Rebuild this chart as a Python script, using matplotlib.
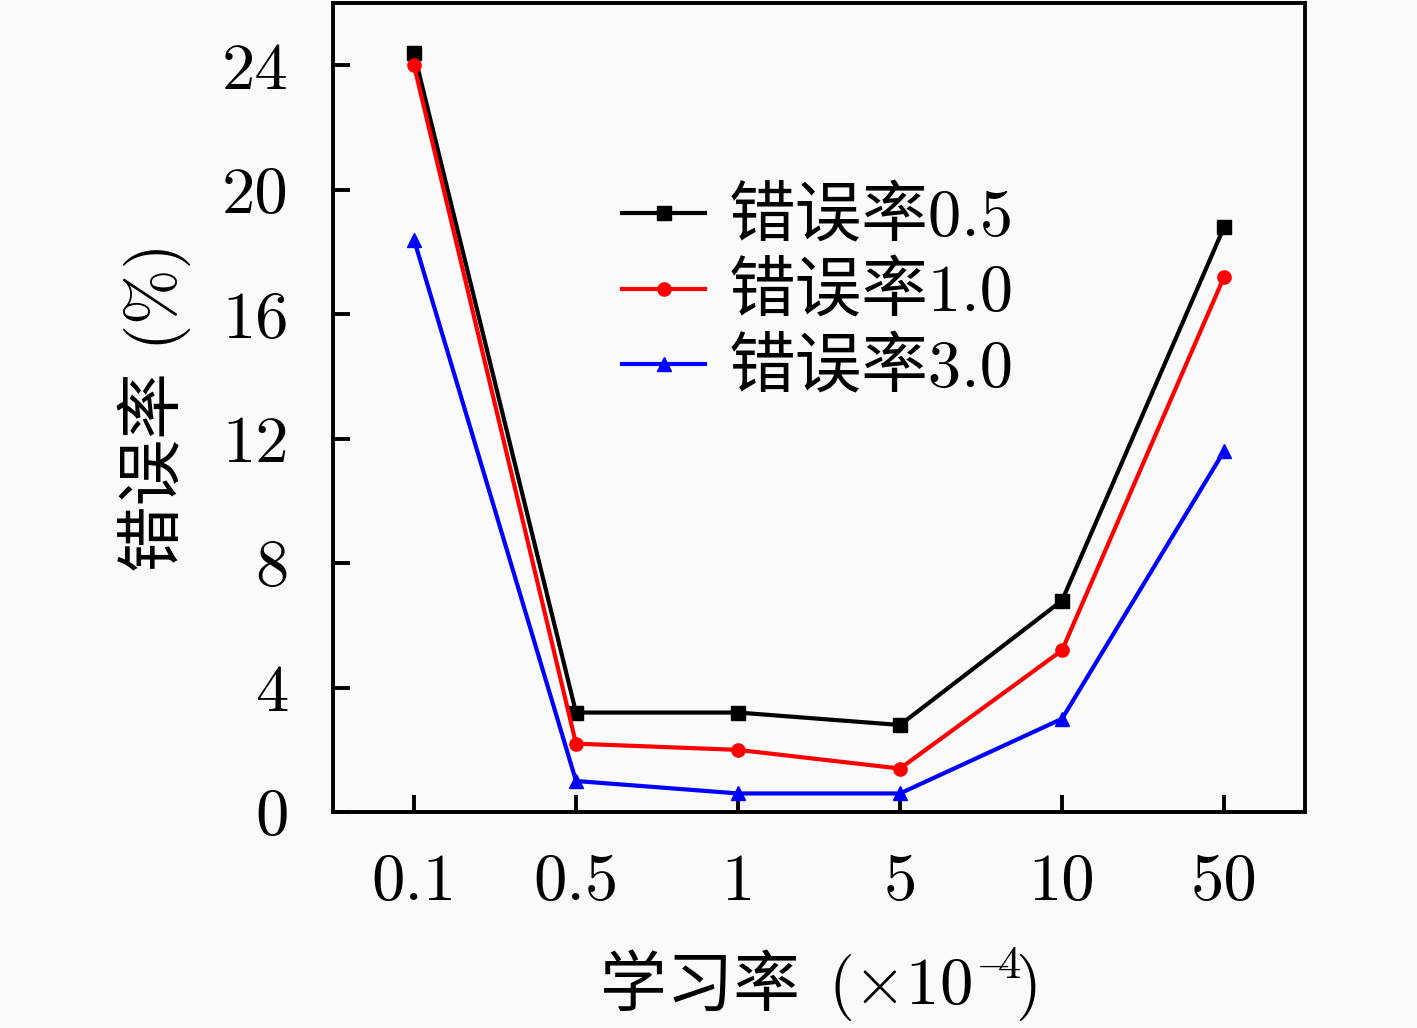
import matplotlib
matplotlib.use("Agg")
import matplotlib.pyplot as plt

categories = ["0.1", "0.5", "1", "5", "10", "50"]
err_05 = [24.4, 3.2, 3.2, 2.8, 6.8, 18.8]
err_10 = [24.0, 2.2, 2.0, 1.4, 5.2, 17.2]
err_30 = [18.4, 1.0, 0.6, 0.6, 3.0, 11.6]
labels = ["错误率0.5", "错误率1.0", "错误率3.0"]
yticks = [0, 4, 8, 12, 16, 20, 24]

fam = ['cmr10', 'Noto Sans CJK SC', 'DejaVu Sans']
plt.rcParams['font.family'] = fam
plt.rcParams['mathtext.fontset'] = 'cm'

bg = '#fafafa'
FS = 48
fig = plt.figure(figsize=(14.17, 10.28), dpi=100, facecolor=bg)
ax = fig.add_axes([0.235, 0.210, 0.686, 0.787], facecolor=bg)

x = list(range(len(categories)))
ax.plot(x, err_05, color='black', lw=3.0, marker='s', ms=9.5, label=labels[0])
ax.plot(x, err_10, color='red', lw=3.0, marker='o', ms=9.5, label=labels[1])
ax.plot(x, err_30, color='blue', lw=3.0, marker='^', ms=10.5, label=labels[2])

ax.set_xlim(-0.5, 5.5)
ax.set_ylim(0, 26)
ax.set_xticks(x)
ax.set_xticklabels(categories)
ax.set_yticks(yticks)
ax.set_yticklabels([str(v) for v in yticks])

for s in ax.spines.values():
    s.set_linewidth(2.8)
ax.tick_params(direction='in', length=12, width=2.8, labelsize=FS)
ax.tick_params(axis='x', pad=30)
ax.tick_params(axis='y', pad=32)

ax.set_ylabel('错误率 (%)', fontsize=FS, labelpad=22)

# x label: Chinese part + math part
fig.text(0.5646, 0.022, '学习率', fontsize=FS, ha='right', va='baseline')
fig.text(0.5843, 0.022, r'$(\times 10^{-\!\!4}\!)$', fontsize=FS, ha='left', va='baseline')

leg = ax.legend(loc='upper left', bbox_to_anchor=(0.27, 0.805), frameon=False,
                fontsize=FS, handlelength=1.25, handletextpad=0.35,
                labelspacing=0.2, borderaxespad=0)

fig.savefig('out.png', dpi=100, facecolor=bg)
